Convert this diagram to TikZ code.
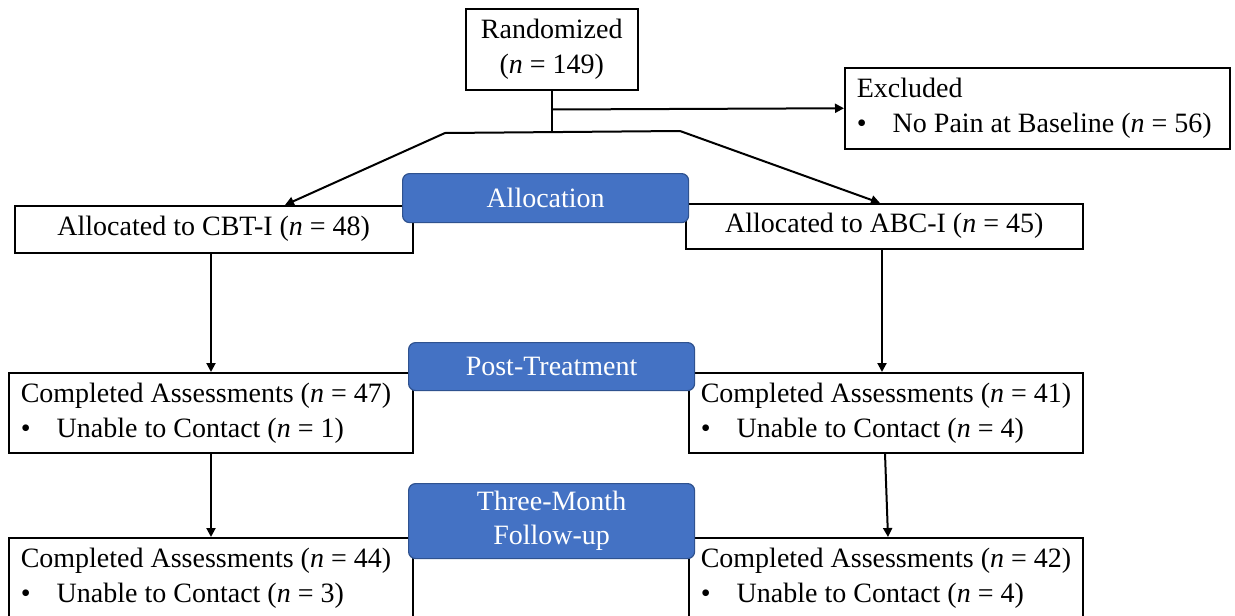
\documentclass[tikz,border=0pt]{standalone}
\usepackage{fontspec}
\setmainfont{Liberation Serif}
\usetikzlibrary{arrows.meta}
\begin{document}
\begin{tikzpicture}[x=1pt,y=-1pt,
  box/.style={draw=black, line width=1.5pt, fill=white, anchor=north west, inner xsep=12pt, inner ysep=0pt, font=\fontsize{28}{35}\selectfont},
  lbox/.style={box},
  cbox/.style={box, align=center},
  stage/.style={draw={rgb,255:red,47;green,82;blue,143}, line width=1.2pt, fill={rgb,255:red,68;green,114;blue,196}, rounded corners=7pt, anchor=north west, text=white, align=center, inner sep=0pt, font=\fontsize{28}{34}\selectfont},
  conn/.style={line width=2pt},
  arr/.style={conn, -{Triangle[length=9pt,width=9pt]}}]
\useasboundingbox (0,0) rectangle (1235,616);
\newcommand\bul{\makebox[36pt][l]{\textbullet}}
\newcommand\nn{\textit{n}}
\newcommand\ltext[3]{\makebox[#1pt][l]{\begin{tabular}{@{}l@{}}#2\\#3\end{tabular}}}
% boxes
\node[cbox, minimum width=172, minimum height=81] (rand) at (465,8) {Randomized\\(\nn{} = 149)};
\node[lbox, minimum height=81] (excl) at (844,67) {\ltext{361}{Excluded}{\bul No Pain at Baseline (\nn{} = 56)}};
\node[cbox, minimum width=398, minimum height=47] (cbt) at (14,205) {Allocated to CBT-I (\nn{} = 48)};
\node[cbox, minimum width=397, minimum height=45] (abc) at (685,203) {Allocated to ABC-I (\nn{} = 45)};
\node[lbox, minimum height=80] (pl) at (8,372) {\ltext{380}{Completed Assessments (\nn{} = 47)}{\bul Unable to Contact (\nn{} = 1)}};
\node[lbox, minimum height=80] (pr) at (688,372) {\ltext{370}{Completed Assessments (\nn{} = 41)}{\bul Unable to Contact (\nn{} = 4)}};
\node[lbox, minimum height=80] (fl) at (8,537) {\ltext{380}{Completed Assessments (\nn{} = 44)}{\bul Unable to Contact (\nn{} = 3)}};
\node[lbox, minimum height=80] (fr) at (688,537) {\ltext{370}{Completed Assessments (\nn{} = 42)}{\bul Unable to Contact (\nn{} = 4)}};
% stage labels
\node[stage, minimum width=286, minimum height=49] (salloc) at (402,173) {Allocation};
\node[stage, minimum width=286, minimum height=48] (spost) at (408,342) {Post-Treatment};
\node[stage, minimum width=286, minimum height=75] (sfu) at (408,483) {Three-Month\\Follow-up};
% connectors
\coordinate (j) at (552,133);
\coordinate (jl) at (445,133);
\coordinate (jr) at (680,131);
\coordinate (tl) at (285,205);
\coordinate (tr) at (880,203);
\draw[conn] (rand.south -| j) -- (j);
\draw[arr] (rand.south -| j) ++(0,19) -- (excl.west);
\draw[conn] (jl) -- (jr);
\draw[arr] (jl) -- (tl);
\draw[arr] (jr) -- (tr);
\draw[arr] (cbt.south -| 211,0) -- (pl.north -| 211,0);
\draw[arr] (abc.south -| 882,0) -- (pr.north -| 882,0);
\draw[arr] (pl.south -| 211,0) -- (fl.north -| 211,0);
\draw[arr] (pr.south -| 885,0) -- (fr.north -| 888,0);
\end{tikzpicture}
\end{document}
